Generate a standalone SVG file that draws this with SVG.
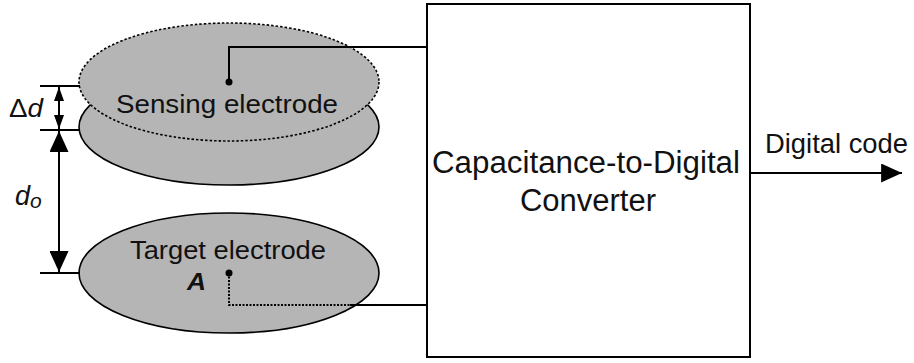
<svg xmlns="http://www.w3.org/2000/svg" width="914" height="363" viewBox="0 0 914 363">
<style>
.el{fill:#b5b5b5;stroke:#000;stroke-width:1.6}
.ln{fill:none;stroke:#000;stroke-width:2}
.t{font-family:"Liberation Sans",Arial,sans-serif;fill:#111}
</style>
<defs>
<marker id="ah" viewBox="0 0 22 20" refX="22" refY="10" markerWidth="22" markerHeight="19" orient="auto-start-reverse" markerUnits="userSpaceOnUse">
<path d="M0,0 L22,10 L0,20 Z" fill="#000"/>
</marker>
<marker id="sm" viewBox="0 0 14 10" refX="14" refY="5" markerWidth="14" markerHeight="10" orient="auto-start-reverse" markerUnits="userSpaceOnUse">
<path d="M0,0 L14,5 L0,10 Z" fill="#000"/>
</marker>
</defs>
<rect width="914" height="363" fill="#fff"/>

<g id="lower-electrode-position">
<ellipse class="el" cx="229" cy="127" rx="150" ry="58"/>
</g>
<g id="sensing-electrode">
<ellipse class="el" cx="229" cy="82" rx="150" ry="59" stroke-dasharray="2.5 2"/>
<text class="t" x="227" y="113" font-size="25" text-anchor="middle" textLength="222" lengthAdjust="spacingAndGlyphs">Sensing electrode</text>
</g>
<g id="target-electrode">
<ellipse class="el" cx="229" cy="273" rx="150" ry="60"/>
<text class="t" x="228" y="259" font-size="25" text-anchor="middle" textLength="196" lengthAdjust="spacingAndGlyphs">Target electrode</text>
<text class="t" x="187" y="290" font-size="24" font-weight="bold" font-style="italic" textLength="19" lengthAdjust="spacingAndGlyphs">A</text>
</g>
<g id="cdc">
<rect x="427" y="4" width="323" height="353" fill="#fff" stroke="#000" stroke-width="2"/>
<text class="t" x="586" y="173" font-size="31" text-anchor="middle" textLength="308" lengthAdjust="spacingAndGlyphs">Capacitance-to-Digital</text>
<text class="t" x="588" y="211" font-size="31" text-anchor="middle">Converter</text>
</g>
<g id="output-label">
<text class="t" x="765" y="153" font-size="27" textLength="143" lengthAdjust="spacingAndGlyphs">Digital code</text>
</g>
<g id="dimension-labels">
<text class="t" x="9" y="117" font-size="25" textLength="34" lengthAdjust="spacingAndGlyphs">Δ<tspan font-style="italic">d</tspan></text>
<text class="t" x="15" y="205" font-size="27" font-style="italic">d<tspan font-size="21" dy="3">o</tspan></text>
</g>

<g id="connectors">
<path class="ln" d="M229,82 V47 H427"/>
<circle cx="229" cy="82" r="3.5" fill="#000"/>
<path class="ln" d="M229,273 V305 H350" stroke-dasharray="2 1.5"/>
<path class="ln" d="M350,305 H427"/>
<circle cx="229" cy="273" r="3.5" fill="#000"/>
<path class="ln" d="M750,173 H902" marker-end="url(#ah)"/>
<path class="ln" d="M40,86 H80 M40,130 H80 M40,273 H80"/>
<path class="ln" d="M59,87 V129" marker-start="url(#sm)" marker-end="url(#sm)"/>
<path class="ln" d="M59,131 V272" marker-start="url(#ah)" marker-end="url(#ah)"/>
</g>
</svg>
